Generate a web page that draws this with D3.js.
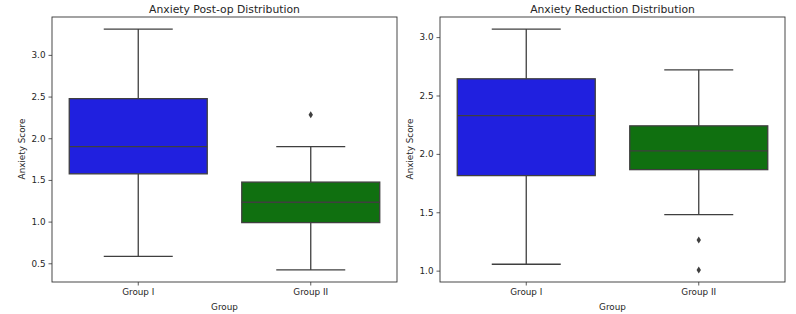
<!DOCTYPE html>
<html>
<head>
<meta charset="utf-8">
<script src="https://cdn.jsdelivr.net/npm/d3@7"></script>
<style>
  html, body { margin: 0; padding: 0; background: #fff; }
  svg { display: block; }
  text { font-family: "DejaVu Sans", sans-serif; fill: #262626; }
</style>
</head>
<body>
<svg id="chart" width="796" height="314"></svg>
<script>
// ---- Data ----
const groups = ["Group I", "Group II"];
const boxColors = ["#2020df", "#107010"];

// Panel 1: Anxiety Post-op
const postopWhiskerLow  = [0.584, 0.42];
const postopQ1          = [1.573, 0.988];
const postopMedian      = [1.90, 1.233];
const postopQ3          = [2.475, 1.474];
const postopWhiskerHigh = [3.31, 1.90];
const postopOutliers    = [[], [2.283]];
const postopTicks       = [0.5, 1.0, 1.5, 2.0, 2.5, 3.0];

// Panel 2: Anxiety Reduction
const reductionWhiskerLow  = [1.055, 1.48];
const reductionQ1          = [1.814, 1.865];
const reductionMedian      = [2.328, 2.026];
const reductionQ3          = [2.643, 2.24];
const reductionWhiskerHigh = [3.069, 2.72];
const reductionOutliers    = [[], [1.263, 1.006]];
const reductionTicks       = [1.0, 1.5, 2.0, 2.5, 3.0];

const panels = [
  { title: "Anxiety Post-op Distribution", left: 52, right: 397, ylabX: 22,
    wl: postopWhiskerLow, q1: postopQ1, med: postopMedian, q3: postopQ3, wh: postopWhiskerHigh,
    out: postopOutliers, ticks: postopTicks },
  { title: "Anxiety Reduction Distribution", left: 440, right: 785, ylabX: 410,
    wl: reductionWhiskerLow, q1: reductionQ1, med: reductionMedian, q3: reductionQ3, wh: reductionWhiskerHigh,
    out: reductionOutliers, ticks: reductionTicks }
];

const plotTop = 17, plotBottom = 282;
const lineColor = "#3f3f3f";
const svg = d3.select("#chart");

panels.forEach(p => {
  const g = svg.append("g");
  const allVals = [...p.wl, ...p.wh, ...p.out.flat()];
  const lo = d3.min(allVals), hi = d3.max(allVals);
  const pad = (hi - lo) * 0.05;
  const y = d3.scaleLinear().domain([lo - pad, hi + pad]).range([plotBottom, plotTop]);
  const x = d3.scaleBand().domain(groups).range([p.left, p.right]).padding(0);
  const bw = x.bandwidth() * 0.8;
  const capW = bw / 2;

  groups.forEach((grp, i) => {
    const cx = x(grp) + x.bandwidth() / 2;
    g.append("line").attr("x1", cx).attr("x2", cx).attr("y1", y(p.q3[i])).attr("y2", y(p.wh[i]))
      .attr("stroke", lineColor).attr("stroke-width", 1.3);
    g.append("line").attr("x1", cx).attr("x2", cx).attr("y1", y(p.q1[i])).attr("y2", y(p.wl[i]))
      .attr("stroke", lineColor).attr("stroke-width", 1.3);
    [p.wh[i], p.wl[i]].forEach(v => {
      g.append("line").attr("x1", cx - capW / 2).attr("x2", cx + capW / 2).attr("y1", y(v)).attr("y2", y(v))
        .attr("stroke", lineColor).attr("stroke-width", 1.3);
    });
    g.append("rect").attr("x", cx - bw / 2).attr("width", bw)
      .attr("y", y(p.q3[i])).attr("height", y(p.q1[i]) - y(p.q3[i]))
      .attr("fill", boxColors[i]).attr("stroke", lineColor).attr("stroke-width", 1.3);
    g.append("line").attr("x1", cx - bw / 2).attr("x2", cx + bw / 2)
      .attr("y1", y(p.med[i])).attr("y2", y(p.med[i]))
      .attr("stroke", lineColor).attr("stroke-width", 1.4);
    p.out[i].forEach(v => {
      const yy = y(v);
      g.append("path")
        .attr("d", `M${cx},${yy - 3.5}L${cx + 2.2},${yy}L${cx},${yy + 3.5}L${cx - 2.2},${yy}Z`)
        .attr("fill", lineColor);
    });
  });

  const yAxis = d3.axisLeft(y).tickValues(p.ticks).tickFormat(d3.format(".1f")).tickSize(3.5).tickPadding(3);
  const xAxis = d3.axisBottom(x).tickSize(3.5).tickPadding(3.5);
  const ya = g.append("g").attr("transform", `translate(${p.left},0)`).call(yAxis);
  const xa = g.append("g").attr("transform", `translate(0,${plotBottom})`).call(xAxis);
  [ya, xa].forEach(a => {
    a.select(".domain").remove();
    a.selectAll(".tick line").attr("stroke", "#333").attr("stroke-width", 0.8);
    a.selectAll(".tick text").attr("fill", "#262626").style("font-size", "8.8px")
      .style("font-family", "'DejaVu Sans', sans-serif");
  });

  g.append("rect").attr("x", p.left).attr("y", plotTop).attr("width", p.right - p.left).attr("height", plotBottom - plotTop)
    .attr("fill", "none").attr("stroke", "#333").attr("stroke-width", 0.9);

  g.append("text").attr("x", (p.left + p.right) / 2).attr("y", 12.5).attr("text-anchor", "middle")
    .style("font-size", "10.8px").text(p.title);
  g.append("text").attr("x", (p.left + p.right) / 2).attr("y", 309.5).attr("text-anchor", "middle")
    .style("font-size", "8.8px").text("Group");
  g.append("text").attr("transform", `translate(${p.ylabX},149) rotate(-90)`)
    .attr("text-anchor", "middle").attr("dy", "0.35em")
    .style("font-size", "8.8px").text("Anxiety Score");
});
</script>
</body>
</html>
